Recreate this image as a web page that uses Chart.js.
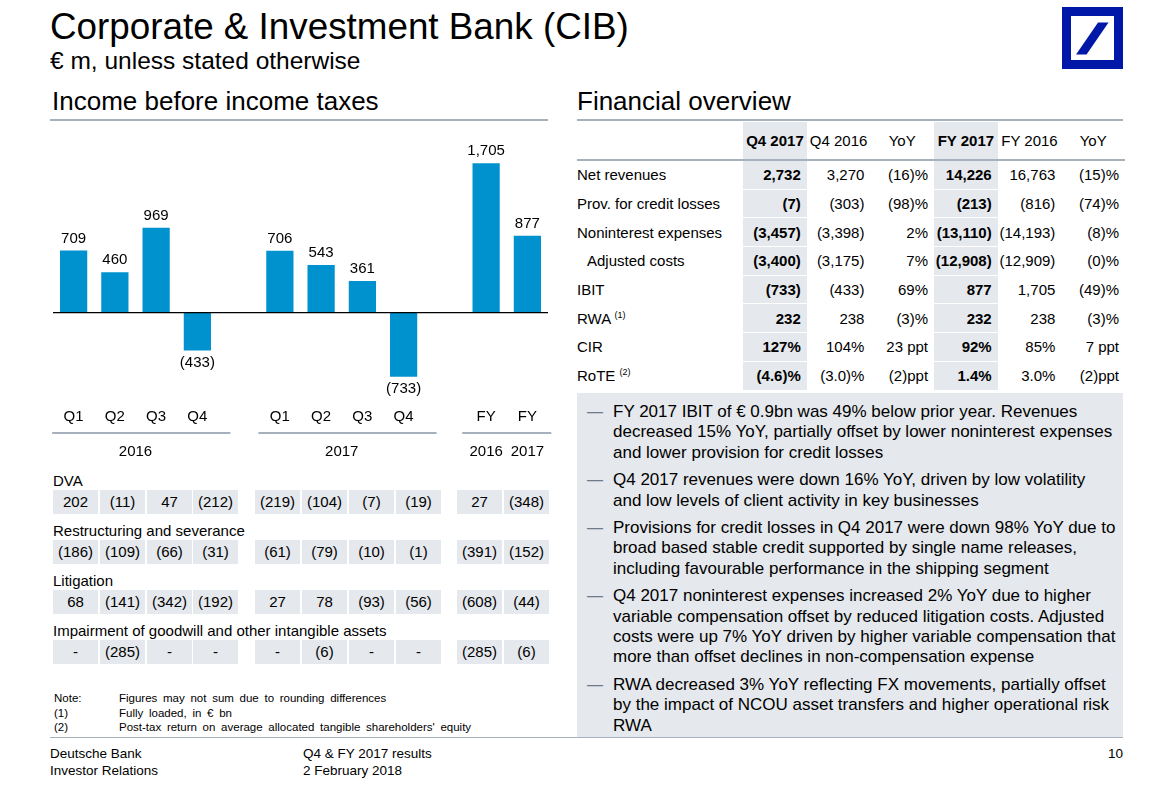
<!DOCTYPE html>
<html>
<head>
<meta charset="utf-8">
<script src="https://cdn.jsdelivr.net/npm/chart.js@4.4.0/dist/chart.umd.min.js"></script>
<style>
  body { margin: 0; background: #fff; font-family: 'Liberation Sans', Arial, sans-serif; color: #000; }
  #page { position: relative; width: 1166px; height: 790px; overflow: hidden; }
  .abs { position: absolute; white-space: nowrap; }
  .title { left: 50px; top: 6px; font-size: 36.8px; line-height: 42px; }
  .subtitle { left: 50px; top: 47px; font-size: 24.5px; line-height: 28px; }
  .section { font-size: 26px; line-height: 30px; top: 86px; }
  .rule { position: absolute; height: 2px; background: #A7B1BE; }
  #chartBox { position: absolute; left: 50px; top: 135px; width: 505px; height: 335px; }
  .rowLabel { position: absolute; left: 53px; font-size: 15px; line-height: 18px; white-space: nowrap; }
  .cell { position: absolute; width: 45px; height: 24px; background: #E5E8EC; font-size: 15px; line-height: 24px; text-align: center; }
  .notes { left: 54px; font-size: 11.5px; line-height: 14.7px; word-spacing: 2.5px; }
  .footer { font-size: 13.5px; line-height: 17px; }
  table.fo { position: absolute; left: 577px; top: 122px; width: 548px; border-collapse: collapse; table-layout: fixed; font-size: 15px; }
  table.fo th { height: 37px; padding: 0; font-weight: normal; text-align: center; border-bottom: 2px solid #A7B1BE; white-space: nowrap; }
  table.fo td { height: 27.7px; padding: 0 6px 0 0; text-align: right; white-space: nowrap; border-top: 1px solid #fff; }
  table.fo td.lab { text-align: left; padding: 0; }
  table.fo .hl { background: #E5E8EC; font-weight: bold; }
  table.fo th.hl { font-weight: bold; }
  sup { font-size: 9px; vertical-align: 6px; line-height: 0; }
  #bullets { position: absolute; left: 577px; top: 393px; width: 546px; height: 344px; background: #E5E8EC; box-sizing: border-box; padding-top: 9px; }
  .bul { position: relative; padding-left: 36px; font-size: 17px; line-height: 20.4px; margin-bottom: 7px; white-space: nowrap; }
  .bul:before { content: '\2014'; position: absolute; left: 10px; top: 0; font-size: 16px; color: #6C7A8C; }
</style>
</head>
<body>
<div id="page">
  <div class="abs title">Corporate &amp; Investment Bank (CIB)</div>
  <div class="abs subtitle">€ m, unless stated otherwise</div>
  <svg class="abs" style="left:1062px;top:7px" width="61" height="62" viewBox="0 0 61 62">
    <rect x="4.5" y="4.5" width="52" height="53" fill="none" stroke="#0018A8" stroke-width="9"/>
    <polygon points="14,47.5 24.5,47.5 46.5,15.5 36,15.5" fill="#0018A8"/>
  </svg>

  <div class="abs section" style="left:52px">Income before income taxes</div>
  <div class="rule" style="left:50px;top:119px;width:498px"></div>
  <div class="abs section" style="left:577px">Financial overview</div>
  <div class="rule" style="left:577px;top:119px;width:546px"></div>

  <div id="chartBox"><canvas id="chart"></canvas></div>

  <div id="adjustments"></div>

  <div class="abs notes" style="top:691px">Note:</div>
  <div class="abs notes" style="top:705.5px">(1)</div>
  <div class="abs notes" style="top:720px">(2)</div>
  <div class="abs notes" style="left:119px;top:691px">Figures may not sum due to rounding differences</div>
  <div class="abs notes" style="left:119px;top:705.5px">Fully loaded, in € bn</div>
  <div class="abs notes" style="left:119px;top:720px">Post-tax return on average allocated tangible shareholders' equity</div>

  <table class="fo" id="fo"></table>

  <div id="bullets"></div>

  <div style="position:absolute;left:50px;top:737px;width:1073px;height:1px;background:#A7B1BE"></div>
  <div class="abs footer" style="left:50px;top:745px">Deutsche Bank</div>
  <div class="abs footer" style="left:50px;top:762px">Investor Relations</div>
  <div class="abs footer" style="left:303px;top:745px">Q4 &amp; FY 2017 results</div>
  <div class="abs footer" style="left:303px;top:762px">2 February 2018</div>
  <div class="abs footer" style="left:1108px;top:745px">10</div>
</div>

<script>
// Income before income taxes (IBIT), € m
const categories = ['Q1', 'Q2', 'Q3', 'Q4', '', 'Q1', 'Q2', 'Q3', 'Q4', '', 'FY', 'FY'];
const ibit = [709, 460, 969, -433, null, 706, 543, 361, -733, null, 1705, 877];
const groupFrom = [0, 5, 10];
const groupTo = [3, 8, 11];
const groupYears = ['2016', '2017', null];
const fyYears = ['2016', '2017'];

// specific items under the chart (same 10 periods, gap slots left out)
const itemNames = ['DVA', 'Restructuring and severance', 'Litigation', 'Impairment of goodwill and other intangible assets'];
const dva = [202, -11, 47, -212, -219, -104, -7, -19, 27, -348];
const restructuring = [-186, -109, -66, -31, -61, -79, -10, -1, -391, -152];
const litigation = [68, -141, -342, -192, 27, 78, -93, -56, -608, -44];
const impairment = [null, -285, null, null, null, -6, null, null, -285, -6];

// financial overview table
const foHeaders = ['Q4 2017', 'Q4 2016', 'YoY', 'FY 2017', 'FY 2016', 'YoY'];
const foLabels = ['Net revenues', 'Prov. for credit losses', 'Noninterest expenses', 'Adjusted costs', 'IBIT', 'RWA', 'CIR', 'RoTE'];
const foNotes = ['', '', '', '', '', '1', '', '2'];
const q42017 = ['2,732', '(7)', '(3,457)', '(3,400)', '(733)', '232', '127%', '(4.6)%'];
const q42016 = ['3,270', '(303)', '(3,398)', '(3,175)', '(433)', '238', '104%', '(3.0)%'];
const yoyQ = ['(16)%', '(98)%', '2%', '7%', '69%', '(3)%', '23 ppt', '(2)ppt'];
const fy2017 = ['14,226', '(213)', '(13,110)', '(12,908)', '877', '232', '92%', '1.4%'];
const fy2016 = ['16,763', '(816)', '(14,193)', '(12,909)', '1,705', '238', '85%', '3.0%'];
const yoyFY = ['(15)%', '(74)%', '(8)%', '(0)%', '(49)%', '(3)%', '7 ppt', '(2)ppt'];

const bullets = [
  'FY 2017 IBIT of € 0.9bn was 49% below prior year. Revenues<br>decreased 15% YoY, partially offset by lower noninterest expenses<br>and lower provision for credit losses',
  'Q4 2017 revenues were down 16% YoY, driven by low volatility<br>and low levels of client activity in key businesses',
  'Provisions for credit losses in Q4 2017 were down 98% YoY due to<br>broad based stable credit supported by single name releases,<br>including favourable performance in the shipping segment',
  'Q4 2017 noninterest expenses increased 2% YoY due to higher<br>variable compensation offset by reduced litigation costs. Adjusted<br>costs were up 7% YoY driven by higher variable compensation that<br>more than offset declines in non-compensation expense',
  'RWA decreased 3% YoY reflecting FX movements, partially offset<br>by the impact of NCOU asset transfers and higher operational risk<br>RWA'
];

function fmt(v) {
  if (v === null) return '-';
  const s = Math.abs(v).toLocaleString('en-US');
  return v < 0 ? '(' + s + ')' : s;
}

// ---- lower table of specific items
const cellLefts = [53, 100, 147, 193, 255, 302, 349, 396, 457, 504];
let adj = '';
[dva, restructuring, litigation, impairment].forEach((row, r) => {
  const top = 472 + r * 50;
  adj += '<div class="rowLabel" style="top:' + top + 'px">' + itemNames[r] + '</div>';
  row.forEach((v, c) => {
    adj += '<div class="cell" style="left:' + cellLefts[c] + 'px;top:' + (top + 18) + 'px">' + fmt(v) + '</div>';
  });
});
document.getElementById('adjustments').innerHTML = adj;

// ---- financial overview table
const hlCols = [0, 3];
let t = '<colgroup><col style="width:166px">' + foHeaders.map(() => '<col style="width:63.6px">').join('') + '</colgroup>';
t += '<tr><th></th>' + foHeaders.map((h, i) => '<th' + (hlCols.includes(i) ? ' class="hl"' : '') + '>' + h + '</th>').join('') + '</tr>';
foLabels.forEach((lab, r) => {
  const vals = [q42017[r], q42016[r], yoyQ[r], fy2017[r], fy2016[r], yoyFY[r]];
  const indent = lab === 'Adjusted costs' ? ' style="padding-left:10px"' : '';
  const sup = foNotes[r] ? ' <sup>(' + foNotes[r] + ')</sup>' : '';
  t += '<tr><td class="lab"' + indent + '>' + lab + sup + '</td>' +
    vals.map((v, i) => '<td' + (hlCols.includes(i) ? ' class="hl"' : '') + '>' + v + '</td>').join('') + '</tr>';
});
document.getElementById('fo').innerHTML = t;

document.getElementById('bullets').innerHTML = bullets.map(b => '<div class="bul">' + b + '</div>').join('');

// ---- chart
const FONT = '"Liberation Sans", Arial, sans-serif';

const barDecorations = {
  id: 'barDecorations',
  afterDatasetsDraw(chart) {
    const { ctx, chartArea, scales: { x, y } } = chart;
    const y0 = y.getPixelForValue(0);
    ctx.save();
    ctx.strokeStyle = '#000';
    ctx.lineWidth = 1.3;
    ctx.beginPath();
    ctx.moveTo(chartArea.left, y0);
    ctx.lineTo(chartArea.right, y0);
    ctx.stroke();

    ctx.font = '15px ' + FONT;
    ctx.fillStyle = '#000';
    ctx.textAlign = 'center';
    ctx.textBaseline = 'middle';
    chart.getDatasetMeta(0).data.forEach((bar, i) => {
      const v = ibit[i];
      if (v === null) return;
      ctx.fillText(fmt(v), bar.x, v >= 0 ? bar.y - 12 : bar.y + 12);
    });

    // year group lines and labels under the category axis
    const slot = x.width / categories.length;
    const lineY = x.bottom + 3;
    const textY = x.bottom + 22;
    ctx.strokeStyle = '#A7B1BE';
    ctx.lineWidth = 2;
    groupFrom.forEach((from, g) => {
      const a = x.getPixelForValue(from), b = x.getPixelForValue(groupTo[g]);
      const l = groupYears[g] ? 0.52 : 0.58, r = groupYears[g] ? 0.8 : 0.58;
      ctx.beginPath();
      ctx.moveTo(a - slot * l, lineY);
      ctx.lineTo(b + slot * r, lineY);
      ctx.stroke();
      if (groupYears[g]) {
        ctx.fillText(groupYears[g], (a + b) / 2, textY);
      } else {
        fyYears.forEach((yr, k) => ctx.fillText(yr, x.getPixelForValue(from + k), textY));
      }
    });
    ctx.restore();
  }
};

new Chart(document.getElementById('chart'), {
  type: 'bar',
  data: {
    labels: categories,
    datasets: [{
      data: ibit,
      backgroundColor: '#0092CF',
      borderWidth: 0,
      categoryPercentage: 1,
      barPercentage: 0.66
    }]
  },
  options: {
    responsive: true,
    maintainAspectRatio: false,
    animation: false,
    layout: { padding: { left: 3, right: 7, top: 0, bottom: 40 } },
    plugins: { legend: { display: false }, tooltip: { enabled: false } },
    scales: {
      x: {
        grid: { display: false, drawTicks: false },
        border: { display: false },
        ticks: { color: '#000', font: { family: FONT, size: 15 }, padding: 4, autoSkip: false, maxRotation: 0 }
      },
      y: {
        display: false,
        min: -1043,
        max: 2027
      }
    }
  },
  plugins: [barDecorations]
});
</script>
</body>
</html>
